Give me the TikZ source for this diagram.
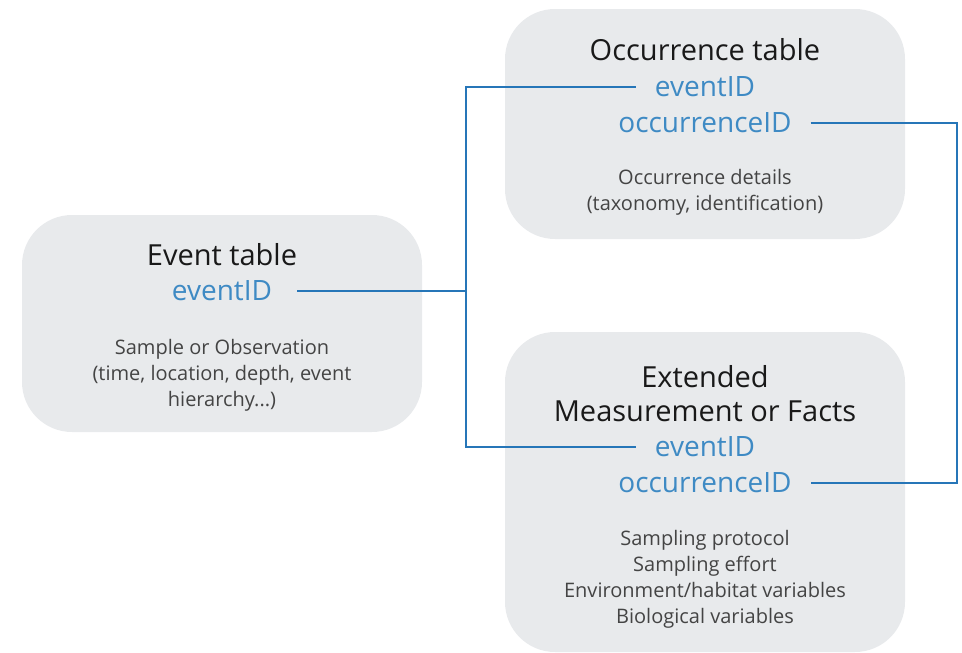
\documentclass[tikz,border=0pt]{standalone}
\usepackage{fontspec}
\setmainfont{Open Sans}

\definecolor{boxgray}{RGB}{232,234,236}
\definecolor{idblue}{RGB}{62,138,196}
\definecolor{linkblue}{RGB}{38,118,184}
\definecolor{notegray}{RGB}{68,68,68}

\begin{document}
\begin{tikzpicture}[x=1pt, y=-1pt, line width=2pt,
  tbl/.style={fill=boxgray, rounded corners=50pt, minimum width=400pt},
  title/.style={font=\fontsize{29}{34}\selectfont, text=black!90, align=center},
  idtxt/.style={font=\fontsize{28}{36}\selectfont, text=idblue, inner xsep=18pt},
  note/.style={font=\fontsize{20}{26}\selectfont, text=notegray, align=center},
  link/.style={draw=linkblue}]

\useasboundingbox (0,0) rectangle (962,653);

% tables
\node[tbl, minimum height=217pt] (evbox) at (222,323.5) {};
\node[tbl, minimum height=230pt] (occbox) at (705,124) {};
\node[tbl, minimum height=320pt] (mofbox) at (705,492) {};

% event table
\node[title] (ev-title) at (222,255) {Event table};
\node[idtxt, inner xsep=24pt] (ev-id) at (222,291) {eventID};
\node[note] (ev-note) at (222,375) {Sample or Observation\\(time, location, depth, event\\hierarchy...)};

% occurrence table
\node[title] (occ-title) at (705,50) {Occurrence table};
\node[idtxt] (occ-ev) at (705,87) {eventID};
\node[idtxt] (occ-oc) at (705,123) {occurrenceID};
\node[note] (occ-note) at (705,192) {Occurrence details\\(taxonomy, identification)};

% extended measurement or facts
\node[title] (mof-title) at (705,394) {Extended\\Measurement or Facts};
\node[idtxt] (mof-ev) at (705,447) {eventID};
\node[idtxt] (mof-oc) at (705,483) {occurrenceID};
\node[note] (mof-note) at (705,579) {Sampling protocol\\Sampling effort\\Environment/habitat variables\\Biological variables};

% links
\coordinate (jbus) at (466,0);
\coordinate (rbus) at (957,0);
\draw[link] (ev-id.east) -- (ev-id.east -| jbus);
\draw[link] (occ-ev.west) -- (occ-ev.west -| jbus) -- (mof-ev.west -| jbus) -- (mof-ev.west);
\draw[link] (occ-oc.east) -- (occ-oc.east -| rbus) -- (mof-oc.east -| rbus) -- (mof-oc.east);

\end{tikzpicture}
\end{document}
